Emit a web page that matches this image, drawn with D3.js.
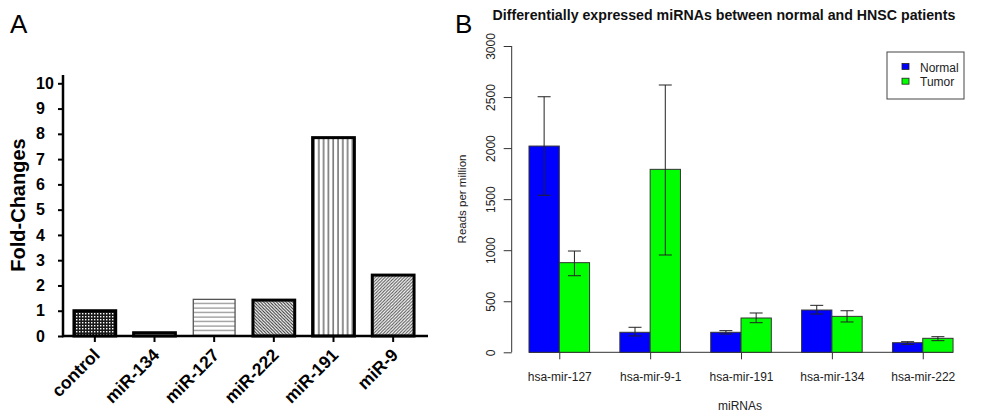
<!DOCTYPE html>
<html><head><meta charset="utf-8">
<script src="https://cdn.jsdelivr.net/npm/d3@7"></script>
<style>
html,body{margin:0;padding:0;background:#fff;}
svg{display:block;font-family:Arial,"Liberation Sans",sans-serif;}
</style></head>
<body>
<svg id="chart" width="985" height="412"></svg>
<script>
// ---- Panel A data ----
const catsA = ["control", "miR-134", "miR-127", "miR-222", "miR-191", "miR-9"];
const foldA = [1.0, 0.13, 1.45, 1.42, 7.85, 2.41];
const ticksA = [0, 1, 2, 3, 4, 5, 6, 7, 8, 9, 10];
const patternsA = ["pDots", "pDash", "pHoriz", "pBack", "pVert", "pFwd"];

// ---- Panel B data ----
const catsB = ["hsa-mir-127", "hsa-mir-9-1", "hsa-mir-191", "hsa-mir-134", "hsa-mir-222"];
const seriesB = ["Normal", "Tumor"];
const normalB = [2020, 196, 196, 414, 94];
const tumorB = [878, 1792, 336, 352, 137];
const normalLo = [1538, 160, 179, 375, 78];
const normalHi = [2503, 245, 212, 460, 104];
const tumorLo = [750, 953, 290, 297, 114];
const tumorHi = [992, 2618, 385, 407, 153];
const ticksB = [0, 500, 1000, 1500, 2000, 2500, 3000];
const colorsB = ["#0000ff", "#00ff00"];

const svg = d3.select("#chart");
const defs = svg.append("defs");

// patterns
function pat(id, size, draw) {
  const p = defs.append("pattern").attr("id", id).attr("patternUnits", "userSpaceOnUse")
    .attr("width", size).attr("height", size);
  draw(p);
}
pat("pDots", 3, p => {
  p.append("rect").attr("width", 3).attr("height", 3).attr("fill", "#1a1a1a");
  p.append("rect").attr("x", 1).attr("y", 1).attr("width", 1.4).attr("height", 1.4).attr("fill", "#fff");
});
pat("pDash", 8, p => {
  p.append("rect").attr("width", 8).attr("height", 8).attr("fill", "#fff");
  p.append("line").attr("x1", 0).attr("x2", 5).attr("y1", 1.5).attr("y2", 1.5).attr("stroke", "#222").attr("stroke-width", 1.2);
});
pat("pHoriz", 4.5, p => {
  p.append("rect").attr("width", 4.5).attr("height", 4.5).attr("fill", "#fff");
  p.append("line").attr("x1", 0).attr("x2", 4.5).attr("y1", 2).attr("y2", 2).attr("stroke", "#777").attr("stroke-width", 1);
});
pat("pVert", 4.8, p => {
  p.append("rect").attr("width", 4.8).attr("height", 4.8).attr("fill", "#fff");
  p.append("line").attr("y1", 0).attr("y2", 4.8).attr("x1", 2).attr("x2", 2).attr("stroke", "#222").attr("stroke-width", 1);
});
pat("pBack", 3.2, p => {
  p.append("rect").attr("width", 3.2).attr("height", 3.2).attr("fill", "#fff");
  p.append("path").attr("d", "M-1,-1L4.2,4.2M-1,2.2L1,4.2M2.2,-1L4.2,1").attr("stroke", "#333").attr("stroke-width", 1);
});
pat("pFwd", 3.2, p => {
  p.append("rect").attr("width", 3.2).attr("height", 3.2).attr("fill", "#fff");
  p.append("path").attr("d", "M-1,4.2L4.2,-1M-1,1L1,-1M2.2,4.2L4.2,2.2").attr("stroke", "#555").attr("stroke-width", 1);
});

// ================= Panel A =================
const gA = svg.append("g");
gA.append("text").attr("x", 10).attr("y", 33).attr("font-size", 26).text("A");

const xA = d3.scaleBand().domain(catsA).range([65, 423]).paddingInner(0.3).paddingOuter(0.15);
const yA = d3.scaleLinear().domain([0, 10]).range([336, 83.3]);

// bars
gA.selectAll("rect.barA").data(catsA).join("rect").attr("class", "barA")
  .attr("x", d => xA(d)).attr("width", xA.bandwidth())
  .attr("y", (d, i) => yA(foldA[i])).attr("height", (d, i) => yA(0) - yA(foldA[i]))
  .attr("fill", (d, i) => `url(#${patternsA[i]})`)
  .attr("stroke", (d, i) => i === 2 ? "#555" : "#000")
  .attr("stroke-width", (d, i) => i === 2 ? 1.3 : 3);

// y axis
const yAxisA = d3.axisLeft(yA).tickValues(ticksA).tickSize(5).tickPadding(6).tickFormat(d3.format("d"));
const gyA = gA.append("g").attr("transform", "translate(63,0)").call(yAxisA);
gyA.select(".domain").remove();
gyA.selectAll(".tick line").attr("stroke", "#000").attr("stroke-width", 2);
gyA.selectAll(".tick text").attr("font-size", 16).attr("font-weight", "bold").attr("fill", "#000")
  .attr("text-anchor", "start").attr("x", -27);
gA.append("line").attr("x1", 63).attr("x2", 63).attr("y1", 75).attr("y2", 337.2).attr("stroke", "#000").attr("stroke-width", 2.5);

// x axis
const xAxisA = d3.axisBottom(xA).tickSize(6).tickPadding(4);
const gxA = gA.append("g").attr("transform", "translate(0,336)").call(xAxisA);
gxA.select(".domain").remove();
gxA.selectAll(".tick line").attr("stroke", "#000").attr("stroke-width", 2);
gxA.selectAll(".tick text").attr("font-size", 17.5).attr("font-weight", "bold").attr("fill", "#000")
  .attr("text-anchor", "end").attr("dy", 0).attr("y", 0)
  .attr("transform", "translate(6,20) rotate(-45)");
gA.append("line").attr("x1", 62).attr("x2", 428).attr("y1", 336).attr("y2", 336).attr("stroke", "#000").attr("stroke-width", 2.5);

gA.append("text").attr("transform", "translate(25,205) rotate(-90)").attr("text-anchor", "middle")
  .attr("font-size", 20).attr("font-weight", "bold").text("Fold-Changes");

// ================= Panel B =================
const gB = svg.append("g");
gB.append("text").attr("x", 455).attr("y", 33).attr("font-size", 26).text("B");
gB.append("text").attr("x", 724).attr("y", 20).attr("text-anchor", "middle")
  .attr("font-size", 14.2).attr("font-weight", "bold").attr("fill", "#111")
  .text("Differentially expressed miRNAs between normal and HNSC patients");

const xU = d3.scaleLinear().domain([0, 15]).range([498.7, 498.7 + 15 * 30.29]);
const yB = d3.scaleLinear().domain([0, 3000]).range([352.3, 46]);

const barsData = [];
catsB.forEach((c, g) => {
  barsData.push({g, s: 0, v: normalB[g], lo: normalLo[g], hi: normalHi[g]});
  barsData.push({g, s: 1, v: tumorB[g], lo: tumorLo[g], hi: tumorHi[g]});
});
const u0 = d => 1 + 3 * d.g + d.s;

// baseline line
gB.append("line").attr("x1", xU(1)).attr("x2", xU(15)).attr("y1", yB(0)).attr("y2", yB(0))
  .attr("stroke", "#333").attr("stroke-width", 1);

gB.selectAll("rect.barB").data(barsData).join("rect").attr("class", "barB")
  .attr("x", d => xU(u0(d))).attr("width", xU(1) - xU(0))
  .attr("y", d => yB(d.v)).attr("height", d => yB(0) - yB(d.v))
  .attr("fill", d => colorsB[d.s]).attr("stroke", "#333").attr("stroke-width", 1);

// error bars
const eb = gB.selectAll("g.eb").data(barsData).join("g").attr("class", "eb")
  .attr("stroke", "#222").attr("stroke-width", 1);
eb.append("line").attr("x1", d => xU(u0(d) + 0.5)).attr("x2", d => xU(u0(d) + 0.5))
  .attr("y1", d => yB(d.lo)).attr("y2", d => yB(d.hi));
eb.append("line").attr("x1", d => xU(u0(d) + 0.5) - 6.5).attr("x2", d => xU(u0(d) + 0.5) + 6.5)
  .attr("y1", d => yB(d.lo)).attr("y2", d => yB(d.lo));
eb.append("line").attr("x1", d => xU(u0(d) + 0.5) - 6.5).attr("x2", d => xU(u0(d) + 0.5) + 6.5)
  .attr("y1", d => yB(d.hi)).attr("y2", d => yB(d.hi));

// y axis
const yAxisB = d3.axisLeft(yB).tickValues(ticksB).tickSize(8).tickPadding(0).tickFormat(d3.format("d"));
const gyB = gB.append("g").attr("transform", "translate(511.7,0)").call(yAxisB);
gyB.select(".domain").attr("stroke", "#333").attr("d", `M0,${yB(0)}V${yB(3000)}`);
gyB.selectAll(".tick line").attr("stroke", "#333");
gyB.selectAll(".tick text").attr("font-size", 12).attr("fill", "#222")
  .attr("text-anchor", "middle").attr("x", 0).attr("dy", 0)
  .attr("transform", "translate(-16.7,0) rotate(-90)");

// x axis ticks
const xAxisB = d3.axisBottom(d3.scaleOrdinal().domain(catsB).range(catsB.map((c, g) => xU(2 + 3 * g))))
  .tickSize(7).tickPadding(13);
const gxB = gB.append("g").attr("transform", `translate(0,${yB(0)})`).call(xAxisB);
gxB.select(".domain").remove();
gxB.selectAll(".tick line").attr("stroke", "#333");
gxB.selectAll(".tick text").attr("font-size", 12).attr("fill", "#222");

gB.append("text").attr("x", 740).attr("y", 410).attr("text-anchor", "middle").attr("font-size", 12).attr("fill", "#222").text("miRNAs");
gB.append("text").attr("transform", "translate(466,199) rotate(-90)").attr("text-anchor", "middle")
  .attr("font-size", 11.5).attr("fill", "#222").text("Reads per million");

// legend
const lg = gB.append("g");
lg.append("rect").attr("x", 887).attr("y", 52).attr("width", 77).attr("height", 47)
  .attr("fill", "#fff").attr("stroke", "#444").attr("stroke-width", 1);
const li = lg.selectAll("g.li").data(seriesB).join("g").attr("class", "li")
  .attr("transform", (d, i) => `translate(0,${i * 14.7})`);
li.append("rect").attr("x", 902).attr("y", 63.5).attr("width", 7).attr("height", 6)
  .attr("fill", (d, i) => colorsB[i]).attr("stroke", "#222").attr("stroke-width", 0.8);
li.append("text").attr("x", 920).attr("y", 71.8).attr("font-size", 12).attr("fill", "#222").text(d => d);
</script>
</body></html>
